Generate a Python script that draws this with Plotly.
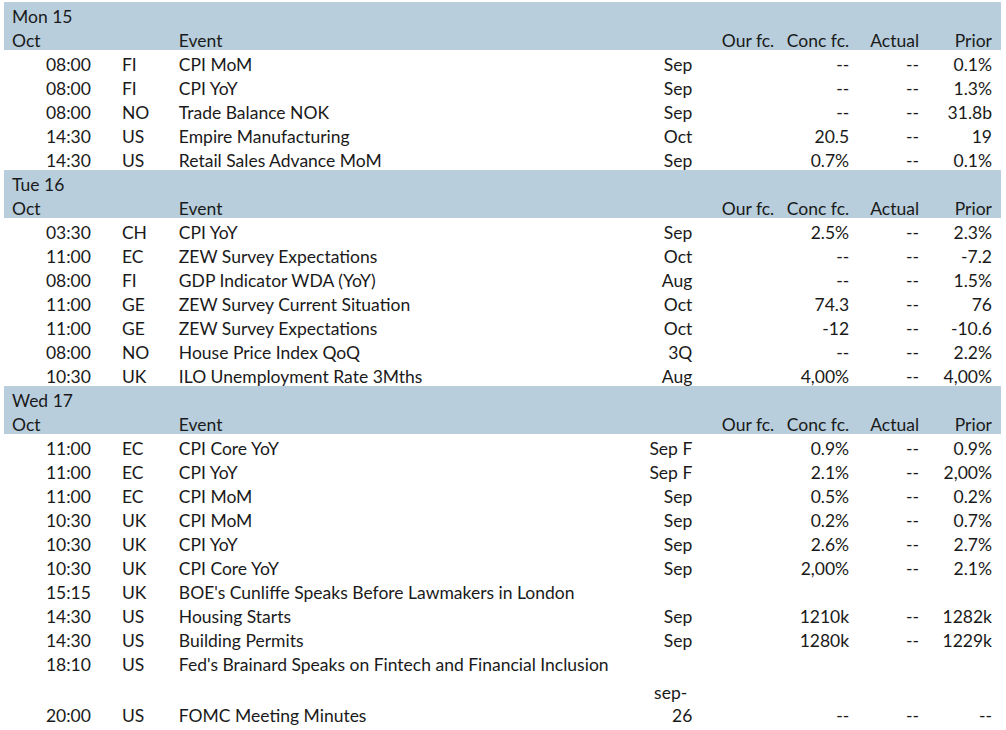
import plotly.graph_objects as go

BAND = "#b8cedc"
TEXT = "#1a1a1a"

# calendar data, one block per day
days = ["Mon 15", "Tue 16", "Wed 17"]
month = "Oct"
col_titles = ["Event", "Our fc.", "Conc fc.", "Actual", "Prior"]

mon_times = ["08:00", "08:00", "08:00", "14:30", "14:30"]
mon_ctry = ["FI", "FI", "NO", "US", "US"]
mon_events = ["CPI MoM", "CPI YoY", "Trade Balance NOK", "Empire Manufacturing", "Retail Sales Advance MoM"]
mon_period = ["Sep", "Sep", "Sep", "Oct", "Sep"]
mon_our = ["", "", "", "", ""]
mon_conc = ["--", "--", "--", "20.5", "0.7%"]
mon_actual = ["--", "--", "--", "--", "--"]
mon_prior = ["0.1%", "1.3%", "31.8b", "19", "0.1%"]

tue_times = ["03:30", "11:00", "08:00", "11:00", "11:00", "08:00", "10:30"]
tue_ctry = ["CH", "EC", "FI", "GE", "GE", "NO", "UK"]
tue_events = ["CPI YoY", "ZEW Survey Expectations", "GDP Indicator WDA (YoY)", "ZEW Survey Current Situation",
              "ZEW Survey Expectations", "House Price Index QoQ", "ILO Unemployment Rate 3Mths"]
tue_period = ["Sep", "Oct", "Aug", "Oct", "Oct", "3Q", "Aug"]
tue_our = ["", "", "", "", "", "", ""]
tue_conc = ["2.5%", "--", "--", "74.3", "-12", "--", "4,00%"]
tue_actual = ["--", "--", "--", "--", "--", "--", "--"]
tue_prior = ["2.3%", "-7.2", "1.5%", "76", "-10.6", "2.2%", "4,00%"]

wed_times = ["11:00", "11:00", "11:00", "10:30", "10:30", "10:30", "15:15", "14:30", "14:30", "18:10", "20:00"]
wed_ctry = ["EC", "EC", "EC", "UK", "UK", "UK", "UK", "US", "US", "US", "US"]
wed_events = ["CPI Core YoY", "CPI YoY", "CPI MoM", "CPI MoM", "CPI YoY", "CPI Core YoY",
              "BOE's Cunliffe Speaks Before Lawmakers in London", "Housing Starts", "Building Permits",
              "Fed's Brainard Speaks on Fintech and Financial Inclusion", "FOMC Meeting Minutes"]
wed_period = ["Sep F", "Sep F", "Sep", "Sep", "Sep", "Sep", "", "Sep", "Sep", "", "sep-<br>26"]
wed_our = ["", "", "", "", "", "", "", "", "", "", ""]
wed_conc = ["0.9%", "2.1%", "0.5%", "0.2%", "2.6%", "2,00%", "", "1210k", "1280k", "", "--"]
wed_actual = ["--", "--", "--", "--", "--", "--", "", "--", "--", "", "--"]
wed_prior = ["0.9%", "2,00%", "0.2%", "0.7%", "2.7%", "2.1%", "", "1282k", "1229k", "", "--"]

blocks = [
    (mon_times, mon_ctry, mon_events, mon_period, mon_our, mon_conc, mon_actual, mon_prior),
    (tue_times, tue_ctry, tue_events, tue_period, tue_our, tue_conc, tue_actual, tue_prior),
    (wed_times, wed_ctry, wed_events, wed_period, wed_our, wed_conc, wed_actual, wed_prior),
]


def nobreak(s):
    # keep short labels on one line inside narrow table columns
    return s.replace(" ", "\u00a0")


def right_lines(s):
    # table cells don't right-align each line of a wrapped cell, so pad the shorter line
    if "<br>" not in s:
        return s
    a, b = s.split("<br>")
    return a + "<br>" + "\u00a0" * 4 + b


# table columns: time, gap, country, event, period, our, conc, actual, prior
ncol = 9
cols = [[] for _ in range(ncol)]
fills = [[] for _ in range(ncol)]
labels = []  # left-aligned day / month labels, drawn by an overlay table

for i, block in enumerate(blocks):
    if i > 0:
        for c in range(ncol):
            cols[c].append("")
            fills[c].append(BAND)
        labels.append(days[i])
    sub = ["", "", "", col_titles[0], ""] + [nobreak(t) for t in col_titles[1:]]
    for c in range(ncol):
        cols[c].append(sub[c])
        fills[c].append(BAND)
    labels.append(month)
    for r in range(len(block[0])):
        two_line = "<br>" in block[3][r]
        row = [block[0][r], ""] + [block[k][r] for k in range(1, 8)]
        for c in range(ncol):
            v = row[c]
            if c == 4:
                v = right_lines(nobreak(v))
            if two_line and "<br>" not in v:
                v = "\u00a0<br>" + v
            cols[c].append(v)
            fills[c].append("white")
        labels.append("\u00a0<br>\u00a0" if two_line else "")

font = dict(family="Lato, Open Sans, sans-serif", size=17.5, color=TEXT)
W, H = 1006, 730
widths = [95, 15, 57, 454, 76, 82, 75, 70, 73]
x0 = 4 / W
x1 = (4 + sum(widths)) / W
ydom = [0, 1 - 2 / H]

fig = go.Figure()
fig.add_trace(go.Table(
    columnwidth=widths,
    header=dict(
        values=[""] * ncol,
        fill_color=BAND,
        font=font,
        height=24,
        line=dict(width=1, color=BAND),
    ),
    cells=dict(
        values=cols,
        fill_color=fills,
        align=["right", "left", "left", "left", "right", "right", "right", "right", "right"],
        font=font,
        height=24,
        line=dict(width=1, color=fills),
    ),
    domain=dict(x=[x0, x1], y=ydom),
))
fig.add_trace(go.Table(
    header=dict(
        values=[days[0]],
        fill_color="rgba(0,0,0,0)",
        align="left",
        font=font,
        height=24,
        line=dict(width=0, color="rgba(0,0,0,0)"),
    ),
    cells=dict(
        values=[labels],
        fill_color="rgba(0,0,0,0)",
        align="left",
        font=font,
        height=24,
        line=dict(width=0, color="rgba(0,0,0,0)"),
    ),
    domain=dict(x=[x0, x0 + widths[0] / W], y=ydom),
))

fig.update_layout(
    width=W,
    height=H,
    margin=dict(l=0, r=0, t=0, b=0),
    paper_bgcolor="white",
)

fig.write_html("out.html", config={"displayModeBar": False},
               post_script="document.body.style.margin = '0';")
